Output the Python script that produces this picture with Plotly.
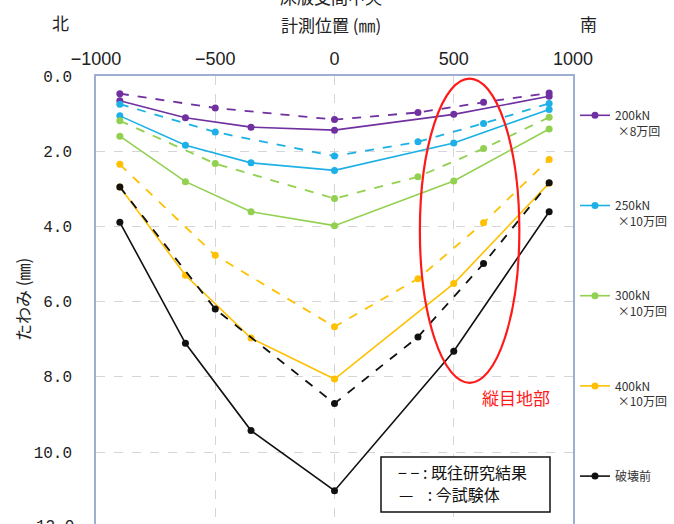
import plotly.graph_objects as go

# Measurement positions (mm)
x_prev = [-900, -500, 0, 350, 625, 900]   # previous study (dashed)
x_now = [-900, -625, -350, 0, 500, 900]   # this test (solid)

series_names = ["200kN<br> ×8万回", "250kN<br> ×10万回", "300kN<br> ×10万回", "400kN<br> ×10万回", "破壊前"]
series_colors = ["#7030A0", "#1CB0E6", "#92D050", "#FFC000", "#111111"]

prev_200 = [0.47, 0.85, 1.16, 0.97, 0.70, 0.45]
prev_250 = [0.75, 1.49, 2.13, 1.75, 1.26, 0.73]
prev_300 = [1.19, 2.33, 3.26, 2.68, 1.93, 1.10]
prev_400 = [2.35, 4.77, 6.67, 5.39, 3.90, 2.22]
prev_break = [2.95, 6.20, 8.71, 6.94, 4.99, 2.84]

now_200 = [0.66, 1.11, 1.36, 1.44, 1.02, 0.54]
now_250 = [1.06, 1.84, 2.31, 2.51, 1.78, 0.89]
now_300 = [1.60, 2.81, 3.61, 3.98, 2.79, 1.41]
now_400 = [2.95, 5.30, 6.97, 8.06, 5.52, 2.85]
now_break = [3.89, 7.11, 9.43, 11.03, 7.32, 3.61]

prev_all = [prev_200, prev_250, prev_300, prev_400, prev_break]
now_all = [now_200, now_250, now_300, now_400, now_break]

x_ticks = [-1000, -500, 0, 500, 1000]
y_ticks = [0, 2, 4, 6, 8, 10, 12]

W, H = 674, 524
ML, MR, MT, MB = 96, 101, 76, 0
PW, PH = W - ML - MR, H - MT - MB


def px_x(px):
    return (px - ML) / PW


def px_y(py):
    return (H - MB - py) / PH


fig = go.Figure()
for i in range(5):
    fig.add_trace(go.Scatter(
        x=x_now, y=now_all[i], mode="lines+markers", name=series_names[i],
        legendgroup=f"g{i}", line=dict(color=series_colors[i], width=1.6),
        marker=dict(color=series_colors[i], size=7)))
    fig.add_trace(go.Scatter(
        x=x_prev, y=prev_all[i], mode="lines+markers", name=series_names[i],
        legendgroup=f"g{i}", showlegend=False,
        line=dict(color=series_colors[i], width=1.8, dash="dash"),
        marker=dict(color=series_colors[i], size=7)))

frame = "#9DAED0"
fig.update_xaxes(
    range=[-1000, 1000], side="top", tickvals=x_ticks, ticks="", automargin=False,
    showgrid=True, gridcolor="#D6D6D6", griddash="dash", gridwidth=1,
    zeroline=False, showline=True, mirror=True, linecolor=frame, linewidth=1.5,
    tickfont=dict(family="Liberation Sans Narrow, Liberation Sans, sans-serif", size=18, color="#222"),
    ticklabelstandoff=2)
fig.update_yaxes(
    range=[(H - MB - MT) / 37.6, 0], tickvals=y_ticks, tickformat=".1f", ticks="", automargin=False,
    showgrid=True, gridcolor="#D6D6D6", griddash="dash", gridwidth=1,
    zeroline=False, showline=True, mirror=True, linecolor=frame, linewidth=1.5,
    tickfont=dict(family="Liberation Mono, DejaVu Sans Mono, monospace", size=16, color="#222"),
    ticklabelstandoff=19)

jp = "Noto Sans CJK JP"
nb = "\u00a0"
ann = [
    dict(text="床版支間中央", x=px_x(331), y=px_y(-3), font=dict(size=17, color="#222", family=jp)),
    dict(text="計測位置 (㎜)", x=px_x(331), y=px_y(25), font=dict(size=17, color="#222", family=jp)),
    dict(text="北", x=px_x(60), y=px_y(22), font=dict(size=17, color="#222", family=jp)),
    dict(text="南", x=px_x(588), y=px_y(24), font=dict(size=17, color="#222", family=jp)),
    dict(text="たわみ (㎜)", x=px_x(22), y=px_y(300), textangle=-90, font=dict(size=17, color="#222", family=jp)),
    dict(text="12.0", x=px_x(55), y=px_y(527),
         font=dict(size=16, color="#222", family="Liberation Mono, DejaVu Sans Mono, monospace")),
    dict(text=f"−{nb}−{nb}:{nb}既往研究結果", x=px_x(396), y=px_y(472), xanchor="left",
         font=dict(size=16, color="#111", family=jp)),
    dict(text=f"—{nb}{nb}{nb}{nb}:{nb}今試験体", x=px_x(397), y=px_y(494), xanchor="left",
         font=dict(size=16, color="#111", family=jp)),
]
annotations = []
for a in ann:
    d = dict(xref="paper", yref="paper", showarrow=False, xanchor="center", yanchor="middle")
    d.update(a)
    annotations.append(d)
annotations.append(dict(xref="x", yref="y", x=761, y=8.54, text="縦目地部", showarrow=False,
                        font=dict(size=17, color="#FF1A1A", family=jp)))

fig.add_shape(type="circle", xref="x", yref="y", x0=358, x1=775, y0=0.07, y1=8.16,
              line=dict(color="#FF1A1A", width=2.2))
fig.add_shape(type="rect", xref="paper", yref="paper",
              x0=px_x(381), x1=px_x(550), y0=px_y(512), y1=px_y(457),
              line=dict(color="#111", width=1.5), fillcolor="white", layer="above")

fig.update_layout(
    width=W, height=H, margin=dict(l=ML, r=MR, t=MT, b=MB, pad=0, autoexpand=False),
    paper_bgcolor="white", plot_bgcolor="white",
    annotations=annotations,
    legend=dict(x=px_x(575), y=px_y(101), xanchor="left", yanchor="top",
                traceorder="grouped", tracegroupgap=56, valign="top",
                font=dict(size=12, color="#333", family=jp), itemwidth=30,
                bgcolor="rgba(0,0,0,0)"),
)

fig.write_html("out.html", config={"displayModeBar": False},
               post_script="document.body.style.margin='0';document.body.style.overflow='hidden';")
